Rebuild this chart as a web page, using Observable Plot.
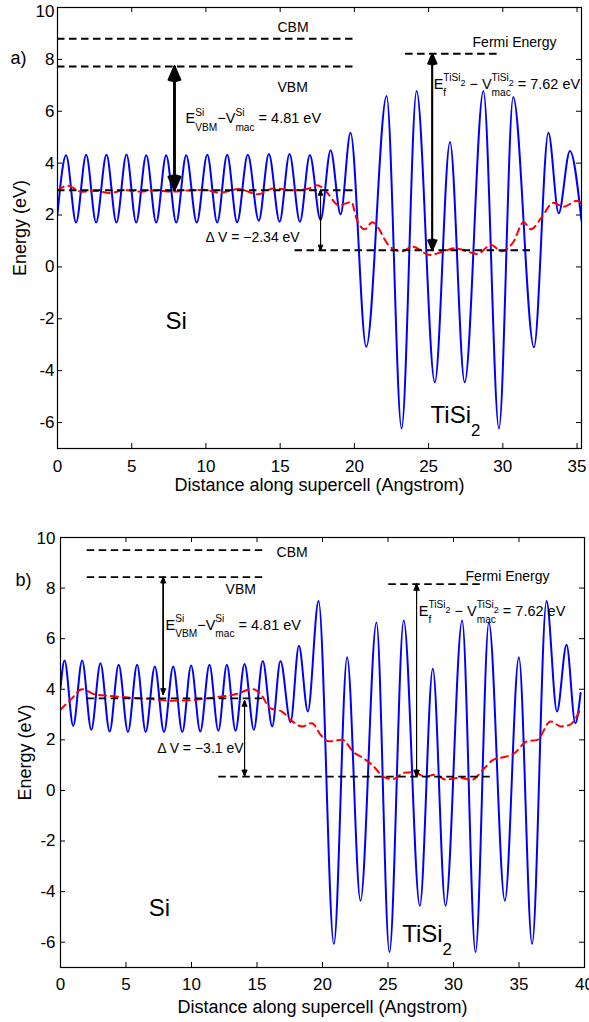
<!DOCTYPE html>
<html><head><meta charset="utf-8">
<script src="https://cdn.jsdelivr.net/npm/d3@7"></script>
<script src="https://cdn.jsdelivr.net/npm/@observablehq/plot@0.6"></script>
<style>
html,body{margin:0;padding:0;background:#fff;}
#chart svg{display:block;}
</style></head><body><div id="chart"></div>
<script>
// ---------------- data ----------------
const xTicksA = [0, 5, 10, 15, 20, 25, 30, 35];
const xTicksB = [0, 5, 10, 15, 20, 25, 30, 35, 40];
const yTicks = [-6, -4, -2, 0, 2, 4, 6, 8, 10];

// panel a: planar-averaged potential (extrema)
const potentialA = [
  [0, 2.05], [0.58, 4.3], [1.25, 1.71], [1.93, 4.32], [2.6, 1.71], [3.3, 4.32], [3.97, 1.71],
  [4.65, 4.33], [5.3, 1.71], [5.98, 4.3], [6.65, 1.71], [7.32, 4.3], [8.0, 1.71], [8.67, 4.3],
  [9.38, 1.71], [10.09, 4.32], [10.76, 1.71], [11.43, 4.32], [12.1, 1.72], [12.82, 4.32],
  [13.56, 1.78], [14.24, 4.35], [14.96, 1.74], [15.63, 4.35], [16.33, 1.74], [17.0, 4.31],
  [17.72, 1.81], [18.4, 4.5], [19.07, 2.03], [19.74, 5.17], [20.8, -3.08], [22.17, 6.59],
  [23.18, -6.23], [24.19, 6.78], [25.42, -4.45], [26.44, 4.82], [27.43, -4.45], [28.69, 6.78],
  [29.74, -6.23], [30.7, 6.55], [32.1, -3.1], [33.07, 5.17], [33.76, 2.07], [34.52, 4.47],
  [35.3, 1.78]
];
// panel a: macroscopic average
const averageA = [
  [0, 2.95], [0.7, 3.13], [1.6, 2.9], [2.6, 2.93], [3.5, 2.85], [4.6, 2.96], [5.6, 2.9],
  [6.6, 2.95], [7.7, 2.9], [8.8, 2.95], [9.9, 2.97], [10.9, 2.86], [12.2, 3.0], [13.5, 2.8],
  [14.6, 3.03], [15.8, 2.96], [16.8, 3.0], [17.5, 3.15], [18.1, 2.9], [18.95, 2.38],
  [19.8, 2.5], [20.15, 1.85], [20.7, 1.45], [21.2, 1.72], [22.4, 0.78], [23.2, 0.6],
  [23.9, 0.78], [25.1, 0.46], [26.0, 0.6], [26.8, 0.72], [27.5, 0.62], [28.3, 0.5],
  [29.2, 0.85], [29.9, 0.6], [30.7, 0.95], [31.4, 1.72], [31.9, 1.45], [32.6, 1.9],
  [33.4, 2.47], [34.1, 2.32], [35.0, 2.55], [35.3, 2.45]
];
const levelsA = [
  {name: "CBM", y: 8.8, x1: 0, x2: 20},
  {name: "VBM", y: 7.73, x1: 0, x2: 20},
  {name: "Vmac Si", y: 2.96, x1: 0, x2: 20},
  {name: "Vmac TiSi2", y: 0.64, x1: 16, x2: 32},
  {name: "Fermi", y: 8.22, x1: 23.45, x2: 29.7}
];
const arrowsA = [
  {x: 7.88, y1: 7.73, y2: 2.96},
  {x: 17.72, y1: 2.96, y2: 0.64},
  {x: 25.25, y1: 8.22, y2: 0.64}
];
const labelsA = [
  {x: 14.82, y: 9.07, text: "CBM"},
  {x: 14.82, y: 6.73, text: "VBM"},
  {x: 27.96, y: 8.47, text: "Fermi Energy"},
  {x: 9.97, y: 0.97, text: "Δ V = −2.34 eV"}
];
const formulasA = [
  {x: 8.63, y: 5.54, text: "E^{Si}_{VBM}−V^{Si}_{mac} = 4.81 eV"},
  {x: 25.34, y: 6.87, text: "E_{f}^{TiSi_{2}} − V^{TiSi_{2}}_{mac} = 7.62 eV"}
];
const regionsA = [
  {x: 7.28, y: -2.4, text: "Si"},
  {x: 25.13, y: -6.02, text: "TiSi_{2}"}
];
const panelA = [{x: -3.17, y: 7.83, text: "a)"}];

// panel b
const potentialB = [
  [0, 4.05], [0.31, 5.14], [0.97, 2.55], [1.65, 5.14], [2.35, 2.4], [3.05, 5.03], [3.75, 2.33],
  [4.44, 4.97], [5.15, 2.31], [5.85, 4.97], [6.5, 2.31], [7.2, 4.9], [7.9, 2.31], [8.6, 4.9],
  [9.3, 2.31], [9.97, 4.94], [10.67, 2.33], [11.37, 4.97], [12.05, 2.36], [12.7, 4.97],
  [13.36, 2.36], [14.05, 5.0], [14.76, 2.4], [15.44, 5.12], [16.16, 2.53], [16.79, 5.12],
  [17.56, 2.7], [18.2, 5.72], [18.88, 3.12], [19.7, 7.49], [20.87, -6.07], [21.88, 5.27],
  [22.9, -4.36], [24.12, 6.64], [25.11, -6.4], [26.2, 6.72], [27.43, -4.56], [28.42, 4.81],
  [29.39, -4.56], [30.66, 6.72], [31.68, -6.4], [32.7, 6.64], [33.92, -4.36], [34.99, 5.27],
  [36.0, -6.07], [37.1, 7.49], [37.9, 3.12], [38.63, 5.76], [39.3, 2.66], [39.7, 3.85]
];
const averageB = [
  [0, 3.19], [0.8, 3.6], [1.65, 4.0], [2.6, 3.8], [3.5, 3.75], [5.0, 3.68], [6.7, 3.62],
  [8.5, 3.55], [10.0, 3.57], [11.7, 3.68], [13.2, 3.78], [14.7, 4.0], [15.3, 3.8],
  [16.0, 3.25], [16.9, 3.12], [17.7, 2.73], [18.45, 2.53], [19.2, 2.66], [19.85, 2.2],
  [20.5, 1.94], [21.5, 2.0], [22.4, 1.5], [23.1, 1.28], [24.0, 0.9], [24.6, 0.55],
  [25.4, 0.45], [26.2, 0.7], [27.0, 0.72], [27.8, 0.55], [28.6, 0.62], [29.4, 0.43],
  [30.4, 0.5], [31.4, 0.42], [32.3, 0.85], [33.0, 1.2], [33.7, 1.3], [34.6, 1.45],
  [35.6, 1.94], [36.4, 2.0], [37.4, 2.73], [38.2, 2.53], [38.9, 2.6], [39.6, 3.12]
];
const levelsB = [
  {name: "CBM", y: 9.5, x1: 2.04, x2: 15.6},
  {name: "VBM", y: 8.43, x1: 2.04, x2: 15.6},
  {name: "Vmac Si", y: 3.64, x1: 2.04, x2: 15.65},
  {name: "Vmac TiSi2", y: 0.55, x1: 12.08, x2: 33.1},
  {name: "Fermi", y: 8.16, x1: 25.06, x2: 32.06}
];
const arrowsB = [
  {x: 7.84, y1: 8.43, y2: 3.8},
  {x: 14.05, y1: 3.55, y2: 0.58},
  {x: 27.18, y1: 8.16, y2: 0.55}
];
const labelsB = [
  {x: 16.49, y: 9.24, text: "CBM"},
  {x: 12.6, y: 7.76, text: "VBM"},
  {x: 30.92, y: 8.29, text: "Fermi Energy"},
  {x: 7.38, y: 1.47, text: "Δ V = −3.1 eV"}
];
const formulasB = [
  {x: 8.02, y: 6.35, text: "E^{Si}_{VBM}−V^{Si}_{mac} = 4.81 eV"},
  {x: 27.35, y: 6.91, text: "E_{f}^{TiSi_{2}} − V^{TiSi_{2}}_{mac} = 7.62 eV"}
];
const regionsB = [
  {x: 6.74, y: -4.95, text: "Si"},
  {x: 26.08, y: -6.0, text: "TiSi_{2}"}
];
const panelB = [{x: -3.44, y: 8.09, text: "b)"}];

const xLabel = "Distance along supercell (Angstrom)";
const yLabel = "Energy (eV)";

// ---------------- drawing ----------------
const FONT = '"Liberation Sans", Arial, sans-serif';

// double-headed arrow; several head angles overlaid give a filled-looking head
function doubleArrow(data, width, head) {
  const marks = [];
  for (const angle of [14, 26, 38, 48]) {
    const common = {x1: "x", x2: "x", y1: d => (d.y1 + d.y2) / 2, stroke: "black",
      strokeWidth: width, headLength: head, headAngle: angle};
    marks.push(Plot.arrow(data, {...common, y2: "y1"}), Plot.arrow(data, {...common, y2: "y2"}));
  }
  return marks;
}

function panel(cfg) {
  const plotW = cfg.width - cfg.ml - cfg.mr;
  const plotH = cfg.height - cfg.mt - cfg.mb;
  const tick = 5;
  const topTick = yTicks[yTicks.length - 1];
  return Plot.plot({
    width: cfg.width, height: cfg.height,
    marginTop: cfg.mt, marginBottom: cfg.mb, marginLeft: cfg.ml, marginRight: cfg.mr,
    style: {fontFamily: FONT, fontSize: "17px", color: "black", background: "white", overflow: "visible"},
    x: {domain: cfg.xDomain},
    y: {domain: [-7, 10]},
    marks: [
      Plot.line(cfg.potential, {stroke: "#0000ff", strokeWidth: 2, curve: "monotone-x", clip: true}),
      Plot.line(cfg.average, {stroke: "#ff0000", strokeWidth: 2, strokeDasharray: "7,5", curve: "monotone-x", clip: true}),
      Plot.ruleY(cfg.levels, {y: "y", x1: "x1", x2: "x2", stroke: "black", strokeWidth: cfg.lw, strokeDasharray: "7.5,4.5"}),
      doubleArrow([cfg.arrows[0]], cfg.aw[0], cfg.ah[0]),
      doubleArrow([cfg.arrows[1]], cfg.aw[1], cfg.ah[1]),
      doubleArrow([cfg.arrows[2]], cfg.aw[2], cfg.ah[2]),
      Plot.frame({stroke: "black", strokeWidth: 1.2}),
      Plot.tickX(cfg.xTicks, {x: d => d, insetTop: plotH - tick, stroke: "black"}),
      Plot.tickX(cfg.xTicks, {x: d => d, insetBottom: plotH - tick, stroke: "black"}),
      Plot.tickY(yTicks, {y: d => d, insetRight: plotW - tick, stroke: "black"}),
      Plot.tickY(yTicks, {y: d => d, insetLeft: plotW - tick, stroke: "black"}),
      Plot.axisX(cfg.xTicks, {anchor: "bottom", tickSize: 0, tickPadding: cfg.xpad, label: null, fontSize: 17, tickFormat: d => String(d)}),
      Plot.axisY(yTicks.filter(d => d !== topTick), {anchor: "left", tickSize: 0, tickPadding: cfg.ypad, label: null, fontSize: 17, tickFormat: d => String(d)}),
      Plot.axisY([topTick], {anchor: "left", tickSize: 0, tickPadding: cfg.ypad, label: null, fontSize: 17, dy: cfg.topDy, tickFormat: d => String(d)}),
      Plot.text([xLabel], {frameAnchor: "bottom", dy: cfg.xlab, lineAnchor: "bottom", fontSize: 18}),
      Plot.text([yLabel], {frameAnchor: "left", dx: cfg.ylab, rotate: -90, lineAnchor: "bottom", textAnchor: "middle", fontSize: 18}),
      Plot.text(cfg.labels, {x: "x", y: "y", text: "text", textAnchor: "start", lineAnchor: "bottom", fontSize: 14}),
      Plot.text(cfg.formulas, {x: "x", y: "y", text: "text", textAnchor: "start", lineAnchor: "bottom", fontSize: 14.5}),
      Plot.text(cfg.regions, {x: "x", y: "y", text: "text", textAnchor: "start", lineAnchor: "bottom", fontSize: 24}),
      Plot.text(cfg.letter, {x: "x", y: "y", text: "text", textAnchor: "start", lineAnchor: "bottom", fontSize: 18})
    ].flat()
  });
}

const svgA = panel({
  width: 589, height: 510, mt: 7, mb: 62, ml: 57, mr: 8, xDomain: [0, 35.3], xTicks: xTicksA,
  potential: potentialA, average: averageA, levels: levelsA, arrows: arrowsA,
  aw: [2, 1, 1.5], ah: [11, 8, 11], lw: 2, topDy: 4,
  labels: labelsA, formulas: formulasA, regions: regionsA, letter: panelA,
  xpad: 11, ypad: 3, xlab: 42, ylab: -32
});
const svgB = panel({
  width: 589, height: 512, mt: 27, mb: 55, ml: 60, mr: 5, xDomain: [0, 40], xTicks: xTicksB,
  potential: potentialB, average: averageB, levels: levelsB, arrows: arrowsB,
  aw: [1, 1, 1], ah: [9, 9, 10], lw: 1.7, topDy: 1,
  labels: labelsB, formulas: formulasB, regions: regionsB, letter: panelB,
  xpad: 10, ypad: 5, xlab: 45, ylab: -30
});
const chart = document.getElementById("chart");
chart.appendChild(svgA);
chart.appendChild(svgB);

// ---------------- rich text (super/subscripts) ----------------
function parseRich(s) {
  const out = []; let buf = ""; let i = 0;
  while (i < s.length) {
    if ((s[i] === "^" || s[i] === "_") && s[i + 1] === "{") {
      if (buf) { out.push({text: buf}); buf = ""; }
      const g = {};
      while (i < s.length && (s[i] === "^" || s[i] === "_") && s[i + 1] === "{") {
        const kind = s[i] === "^" ? "sup" : "sub";
        let depth = 0, j = i + 1;
        for (; j < s.length; j++) {
          if (s[j] === "{") depth++;
          else if (s[j] === "}" && --depth === 0) break;
        }
        g[kind] = s.slice(i + 2, j);
        i = j + 1;
      }
      out.push(g);
    } else { buf += s[i]; i++; }
  }
  if (buf) out.push({text: buf});
  return out;
}
const ctx = document.createElement("canvas").getContext("2d");
function measure(str, size, fam) { ctx.font = `${size}px ${fam}`; return ctx.measureText(str).width; }
const NS = "http://www.w3.org/2000/svg";
function layoutRich(t) {
  const s = t.textContent;
  const cs = getComputedStyle(t);
  const F = parseFloat(cs.fontSize), fam = cs.fontFamily;
  t.textContent = "";
  t.setAttribute("xml:space", "preserve");
  t.style.whiteSpace = "pre";
  let cur = 0, curY = 0, pen = 0;
  const emit = (str, size, x, y) => {
    const ts = document.createElementNS(NS, "tspan");
    ts.setAttribute("dx", (x - cur).toFixed(2));
    ts.setAttribute("dy", (y - curY).toFixed(2));
    ts.setAttribute("font-size", size.toFixed(2));
    ts.textContent = str;
    t.appendChild(ts);
    cur = x + measure(str, size, fam); curY = y;
    return cur;
  };
  const sc = 0.7 * F, ss = 0.62 * F;
  for (const it of parseRich(s)) {
    if (it.text != null) { pen = emit(it.text, F, pen, 0); continue; }
    const x0 = pen; let end = x0;
    if (it.sup != null) {
      let p = x0;
      for (const q of parseRich(it.sup)) {
        if (q.text != null) p = emit(q.text, sc, p, -0.52 * F);
        else if (q.sub != null) p = emit(q.sub, ss, p, -0.16 * F);
      }
      end = Math.max(end, p);
    }
    if (it.sub != null) end = Math.max(end, emit(it.sub, sc, x0, 0.52 * F));
    pen = end;
  }
}
for (const svg of [svgA, svgB]) {
  svg.querySelectorAll("text").forEach(t => {
    if (/[\^_]\{/.test(t.textContent)) layoutRich(t);
  });
}
</script></body></html>
